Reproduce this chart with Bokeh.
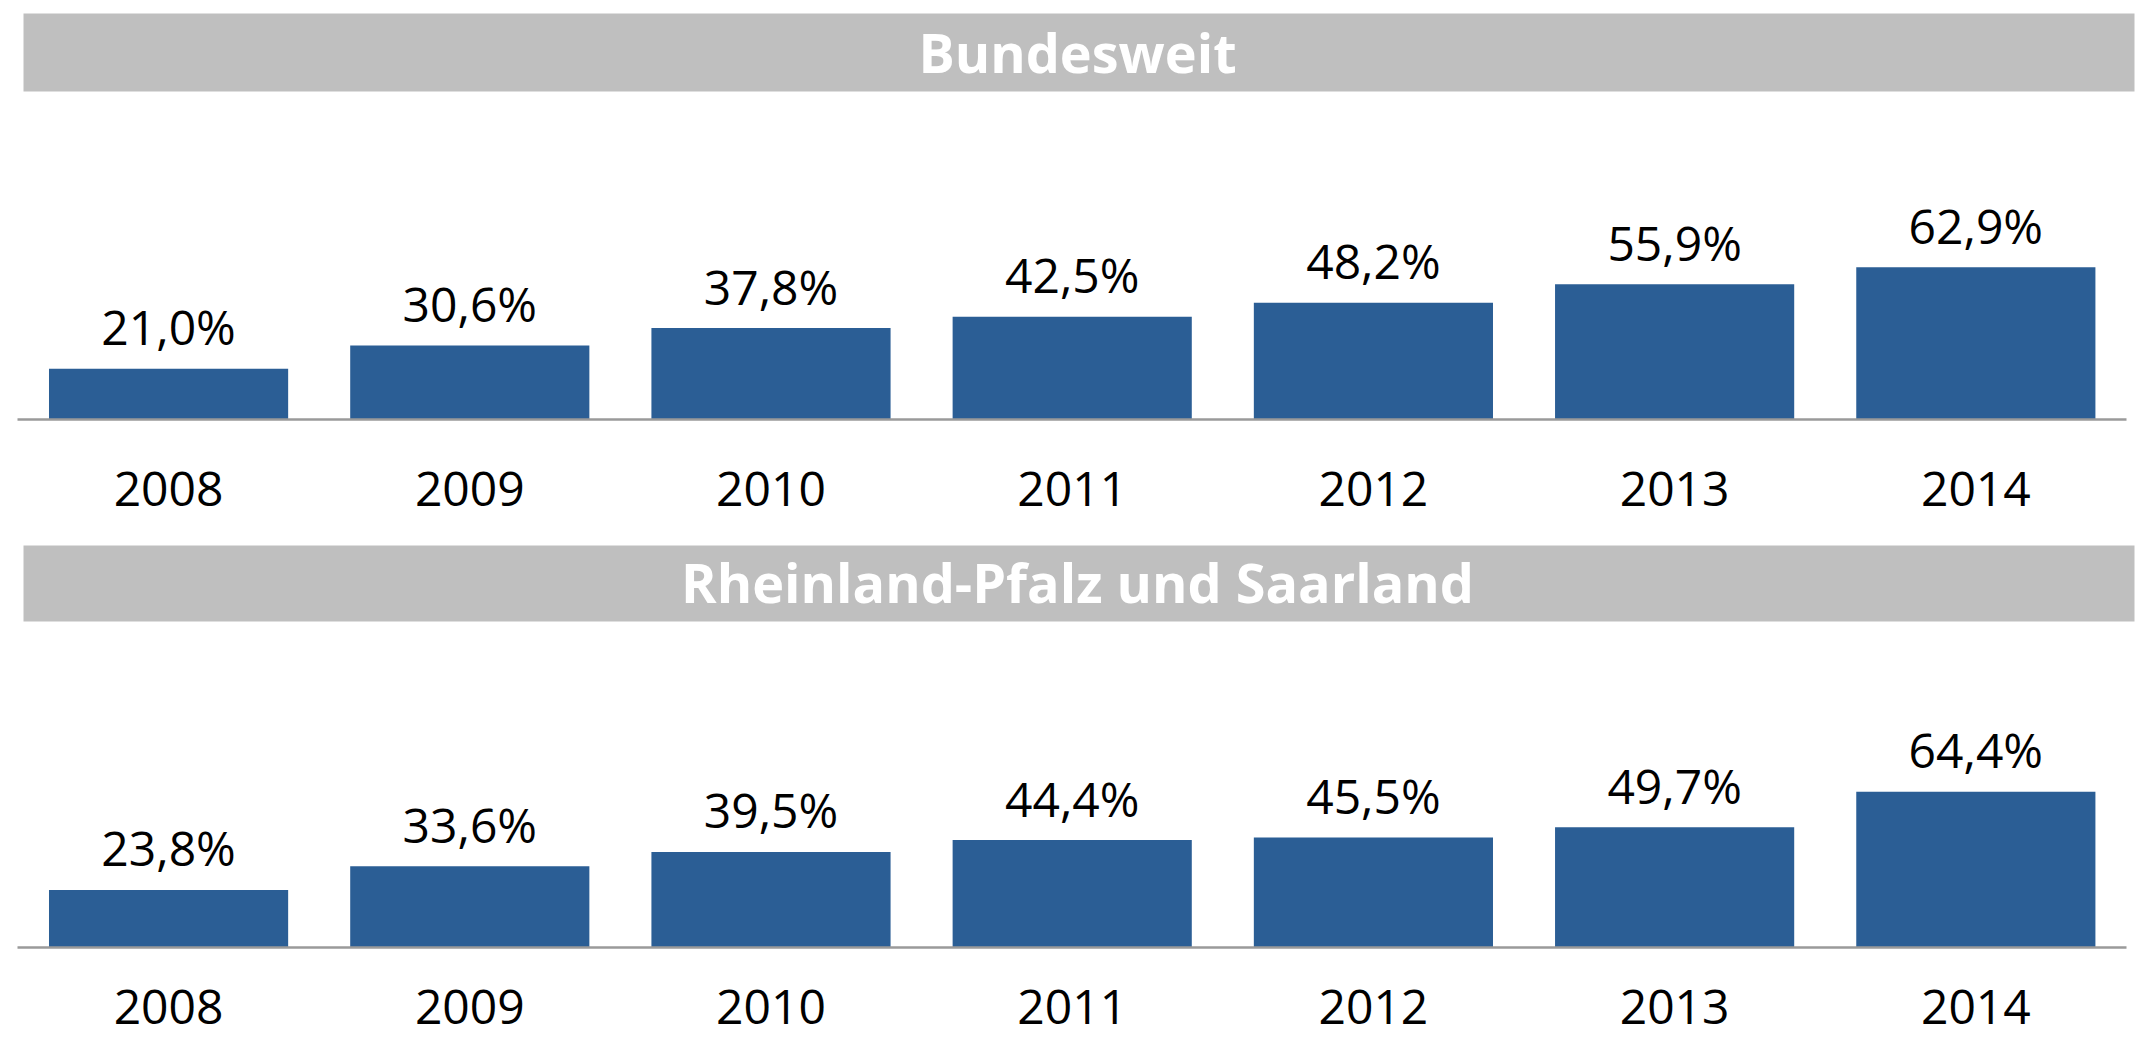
from bokeh.plotting import figure
from bokeh.layouts import column
from bokeh.models import Range1d, ColumnDataSource, FixedTicker
from bokeh.core.properties import value
from bokeh.embed import file_html
from bokeh.resources import INLINE

# ---- data ----
years = ["2008", "2009", "2010", "2011", "2012", "2013", "2014"]
bundesweit = [21.0, 30.6, 37.8, 42.5, 48.2, 55.9, 62.9]
rlp_saarland = [23.8, 33.6, 39.5, 44.4, 45.5, 49.7, 64.4]
titles = ["Bundesweit", "Rheinland-Pfalz und Saarland"]

# ---- style ----
W = 2141
PX_PER_PCT = 2.42
PAD_L = 0.058
PAD_R = 0.05
BAR_COLOR = "#2B5E95"
BANNER_COLOR = "#BFBFBF"
AXIS_COLOR = "#9A9A9A"
FONT = "Open Sans"


def fmt(v):
    return f"{v:.1f}".replace(".", ",") + "%"


def panel(title, vals, frame_h, axis_px, banner_top, banner_bottom, title_base, bottom_border, standoff):
    idx = list(range(len(years)))
    x_range = Range1d(-0.5 - PAD_L, len(years) - 0.5 + PAD_R)
    y_range = Range1d(-(frame_h - axis_px) / PX_PER_PCT, axis_px / PX_PER_PCT)
    p = figure(x_range=x_range, y_range=y_range, frame_width=W, frame_height=frame_h,
               output_backend="svg", toolbar_location=None, y_axis_location=None,
               min_border_left=0, min_border_right=0, min_border_top=0,
               min_border_bottom=bottom_border, background_fill_color="white",
               border_fill_color="white")
    p.extra_x_ranges = {"px": Range1d(0, W)}
    p.extra_y_ranges = {"px": Range1d(frame_h, 0)}
    p.outline_line_color = None
    p.xgrid.visible = False
    p.ygrid.visible = False

    # banner
    p.quad(left=23, right=2134, top=banner_top, bottom=banner_bottom,
           x_range_name="px", y_range_name="px", fill_color=BANNER_COLOR, line_color=None)
    p.text(x=[1077], y=[title_base], text=[title], x_range_name="px", y_range_name="px",
           text_font=value(FONT), text_font_style="bold", text_font_size="54px",
           text_color="white", text_align="center", text_baseline="alphabetic")

    src = ColumnDataSource(dict(x=idx, year=years, val=vals, label=[fmt(v) for v in vals]))
    p.vbar(x="x", top="val", bottom=0, width=0.794, source=src,
           fill_color=BAR_COLOR, line_color=None)
    p.text(x="x", y="val", text="label", source=src, y_offset=-42,
           text_font=value(FONT), text_font_size="48px", text_color="black",
           text_align="center", text_baseline="alphabetic")

    # baseline
    p.segment(x0=[17], x1=[2126], y0=[0], y1=[0], x_range_name="px",
              line_color=AXIS_COLOR, line_width=2.5)

    ax = p.xaxis[0]
    ax.ticker = FixedTicker(ticks=idx)
    ax.major_label_overrides = {i: y for i, y in zip(idx, years)}
    ax.axis_line_color = None
    ax.major_tick_line_color = None
    ax.minor_tick_line_color = None
    ax.major_tick_out = 0
    ax.major_label_standoff = standoff
    ax.major_label_text_font = FONT
    ax.major_label_text_font_size = "48px"
    ax.major_label_text_color = "black"
    return p


p1 = panel(titles[0], bundesweit, 425, 419, 13, 91, 51, 118, 46)
p2 = panel(titles[1], rlp_saarland, 406, 404, 2, 78, 38.5, 89, 40)

layout = column(p1, p2, spacing=0)
open("out.html", "w").write(file_html(layout, INLINE))
